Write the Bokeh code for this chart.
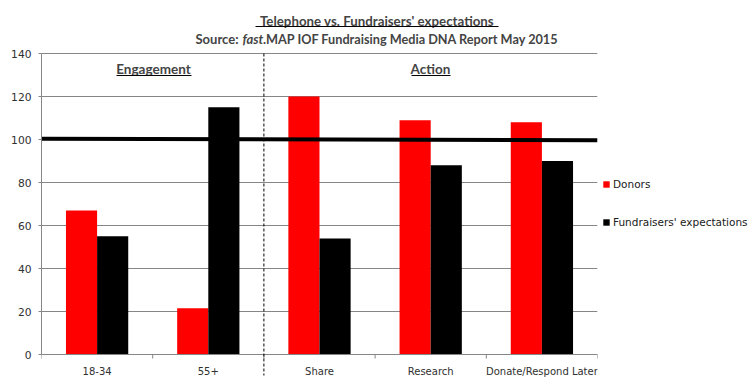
from bokeh.plotting import figure
from bokeh.models import (FactorRange, Range1d, FixedTicker, Label, Arrow, ColumnDataSource, Legend)
from bokeh.transform import dodge
from bokeh.embed import file_html
from bokeh.resources import INLINE

categories = ["18-34", "55+", "Share", "Research", "Donate/Respond Later"]
donors = [67, 21.5, 120, 109, 108]
fundraisers = [55, 115, 54, 88, 90]
benchmark_ends = [100.4, 99.6]
y_ticks = [0, 20, 40, 60, 80, 100, 120, 140]
title_text = "Telephone vs. Fundraisers' expectations"
subtitle_parts = ["Source:", "fast", ".MAP IOF Fundraising Media DNA Report May 2015"]
section_labels = ["Engagement", "Action"]

PX = 2.15  # pixels per y unit (301 px for 140)
src = ColumnDataSource(dict(cat=categories, donors=donors, fund=fundraisers))

p = figure(x_range=FactorRange(*categories), y_range=Range1d(-26 / PX, 354 / PX),
           frame_width=556, frame_height=380,
           min_border_left=41, min_border_right=150, min_border_top=0, min_border_bottom=0,
           output_backend="svg", toolbar_location=None,
           outline_line_color=None, background_fill_color="white", border_fill_color="white")

xax = p.xaxis[0]
xax.fixed_location = 0
xax.axis_line_color = "#868686"
xax.major_tick_line_color = None
xax.major_tick_out = 4
xax.major_tick_in = 0
xax.major_label_standoff = 7
xax.major_label_text_font = "DejaVu Sans"
xax.major_label_text_font_size = "10px"
xax.major_label_text_color = "#303030"

# category boundary tick marks
for i in range(len(categories) + 1):
    p.add_layout(Arrow(end=None, x_start=i, y_start=0, x_end=i, y_end=-4 / PX,
                       line_color="#868686", line_width=1))

yax = p.yaxis[0]
yax.bounds = (0, 140)
yax.ticker = FixedTicker(ticks=y_ticks)
yax.axis_line_color = "#868686"
yax.major_tick_line_color = "#868686"
yax.major_tick_out = 3
yax.major_tick_in = 0
yax.minor_tick_line_color = None
yax.major_label_standoff = 7
yax.major_label_text_font = "DejaVu Sans"
yax.major_label_text_font_size = "10.7px"
yax.major_label_text_color = "#303030"

p.xgrid.grid_line_color = None
p.ygrid.grid_line_color = "#868686"
p.ygrid.ticker = FixedTicker(ticks=y_ticks)

r1 = p.vbar(x=dodge("cat", -0.14, range=p.x_range), top="donors", width=0.28, source=src,
            fill_color="#ff0000", line_color=None)
r2 = p.vbar(x=dodge("cat", 0.14, range=p.x_range), top="fund", width=0.28, source=src,
            fill_color="#000000", line_color=None)

p.segment(x0=[0], y0=[benchmark_ends[0]], x1=[len(categories)], y1=[benchmark_ends[1]],
          line_color="black", line_width=4)

p.add_layout(Arrow(end=None, x_start=2, y_start=140, x_end=2, y_end=-21 / PX,
                   line_color="black", line_width=1, line_dash="3 2"))

legend = Legend(items=[("Donors", [r1]), ("Fundraisers' expectations", [r2])],
                location=(5, 152), margin=0, padding=0, spacing=26,
                glyph_width=8, glyph_height=8, label_standoff=3,
                label_text_font="DejaVu Sans", label_text_font_size="10.5px",
                label_text_color="#202020", border_line_color=None, background_fill_alpha=0)
p.add_layout(legend, "right")


def xd(px):
    return (px - 41) / 111.2


def yd(py):
    return (354 - py) / PX


font = "Lato"
p.add_layout(Label(x=xd(376.5), y=yd(20), text=title_text, text_align="center", text_baseline="middle",
                   text_font=font, text_font_style="bold", text_font_size="13.3px"))
p.add_layout(Arrow(end=None, x_start=xd(255), y_start=yd(26), x_end=xd(498), y_end=yd(26),
                   line_color="black", line_width=1))

p.add_layout(Label(x=xd(238), y=yd(38), text=subtitle_parts[0], text_align="right",
                   text_baseline="middle", text_font=font, text_font_style="bold", text_font_size="13px"))
p.add_layout(Label(x=xd(242), y=yd(38), text=subtitle_parts[1], text_align="left",
                   text_baseline="middle", text_font=font, text_font_style="bold italic",
                   text_font_size="13px"))
p.add_layout(Label(x=xd(262.5), y=yd(38), text=subtitle_parts[2],
                   text_align="left", text_baseline="middle", text_font=font, text_font_style="bold",
                   text_font_size="12.7px"))

for name, cx, x0, x1 in [(section_labels[0], 153, 116, 191), (section_labels[1], 430, 411, 450)]:
    p.add_layout(Label(x=xd(cx), y=yd(68), text=name, text_align="center", text_baseline="middle",
                       text_font=font, text_font_style="bold", text_font_size="13.5px"))
    p.add_layout(Arrow(end=None, x_start=xd(x0), y_start=yd(75), x_end=xd(x1),
                       y_end=yd(75), line_color="black", line_width=1))

open("out.html", "w").write(file_html(p, INLINE))
